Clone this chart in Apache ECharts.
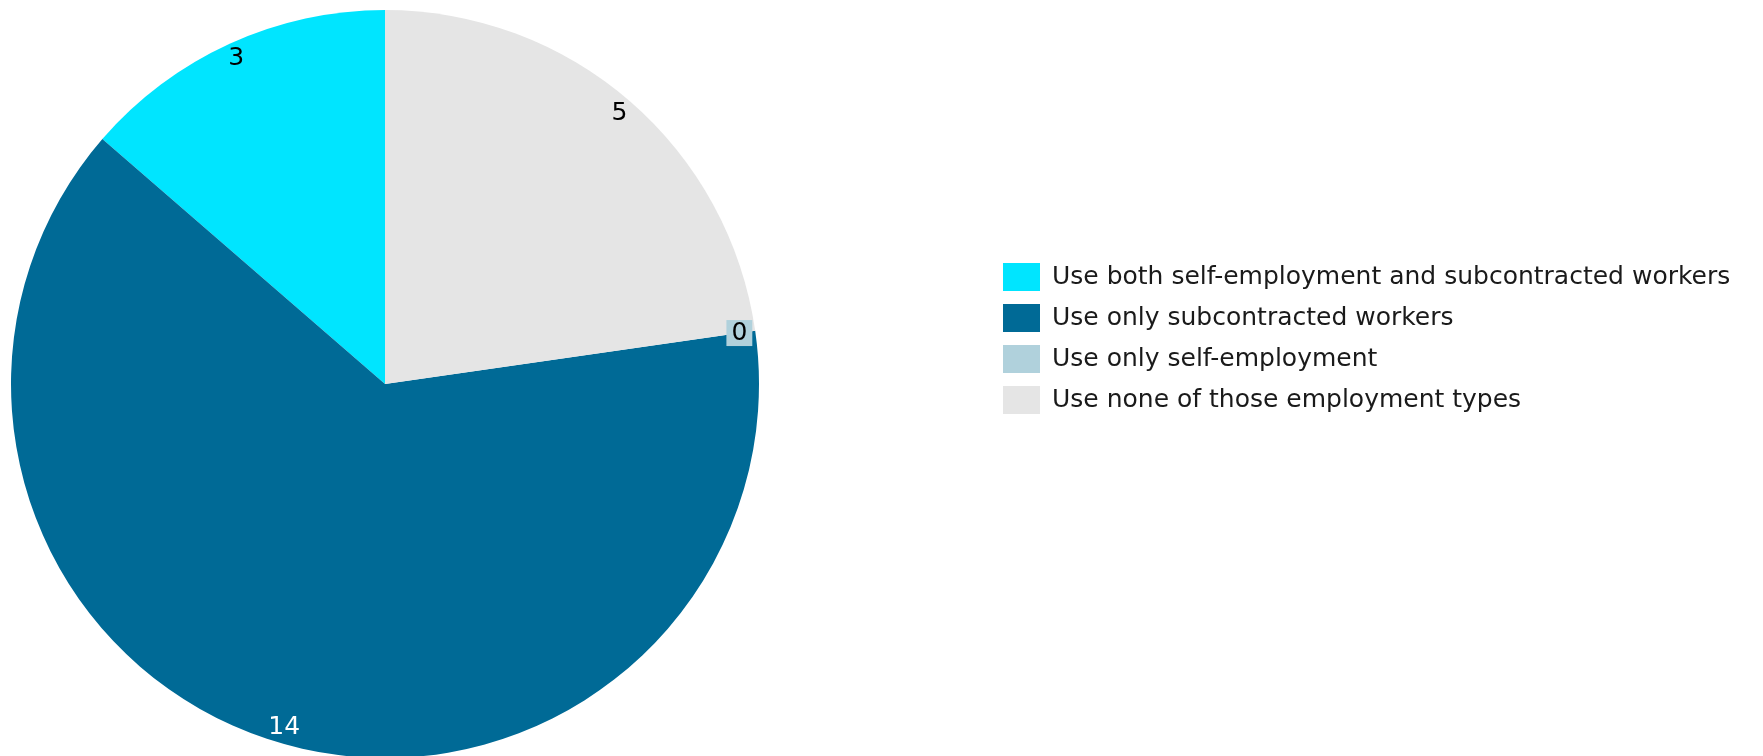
<!DOCTYPE html>
<html>
<head>
<meta charset="utf-8">
<script src="https://cdn.jsdelivr.net/npm/echarts@6/dist/echarts.min.js"></script>
<style>
html,body{margin:0;padding:0;background:#fff;}
#chart{width:1763px;height:756px;}
</style>
</head>
<body>
<div id="chart"></div>
<script>
const categories = [
  'Use both self-employment and subcontracted workers',
  'Use only subcontracted workers',
  'Use only self-employment',
  'Use none of those employment types'
];
const values = [3, 14, 0, 5];

const sliceColors = ['#00e5ff', '#006a96', '#b0d1dc', '#e5e5e5'];
const labelColors = ['#000000', '#ffffff', '#000000', '#000000'];
const FONT = 'DejaVu Sans';

const pieData = categories.map((name, i) => ({
  name: name, value: values[i], itemStyle: { color: sliceColors[i] }
}));
const labelData = categories.map((name, i) => ({
  name: name, value: values[i],
  itemStyle: { color: 'rgba(0,0,0,0)' },
  label: values[i] === 0
    ? { color: labelColors[i], backgroundColor: sliceColors[i], padding: [1, 5, 0, 5] }
    : { color: labelColors[i] }
}));

const chart = echarts.init(document.getElementById('chart'), null, { renderer: 'canvas' });
chart.setOption({
  animation: false,
  backgroundColor: '#ffffff',
  legend: {
    orient: 'vertical',
    left: 1003,
    top: 263,
    padding: 0,
    itemWidth: 37,
    itemHeight: 28,
    itemGap: 13,
    icon: 'rect',
    data: categories,
    textStyle: { fontFamily: FONT, fontSize: 25, color: '#1a1a1a', padding: [0, 0, 0, 7] }
  },
  series: [
    {
      type: 'pie',
      center: [385, 384],
      radius: [0, 374],
      startAngle: 90,
      clockwise: false,
      label: { show: false },
      labelLine: { show: false },
      emphasis: { disabled: true },
      data: pieData
    },
    {
      type: 'pie',
      center: [385, 384],
      radius: [336, 374],
      startAngle: 90,
      clockwise: false,
      silent: true,
      legendHoverLink: false,
      label: {
        show: true,
        position: 'inside',
        formatter: '{c}',
        fontFamily: FONT,
        fontSize: 25
      },
      labelLine: { show: false },
      emphasis: { disabled: true },
      data: labelData
    }
  ]
});
</script>
</body>
</html>
